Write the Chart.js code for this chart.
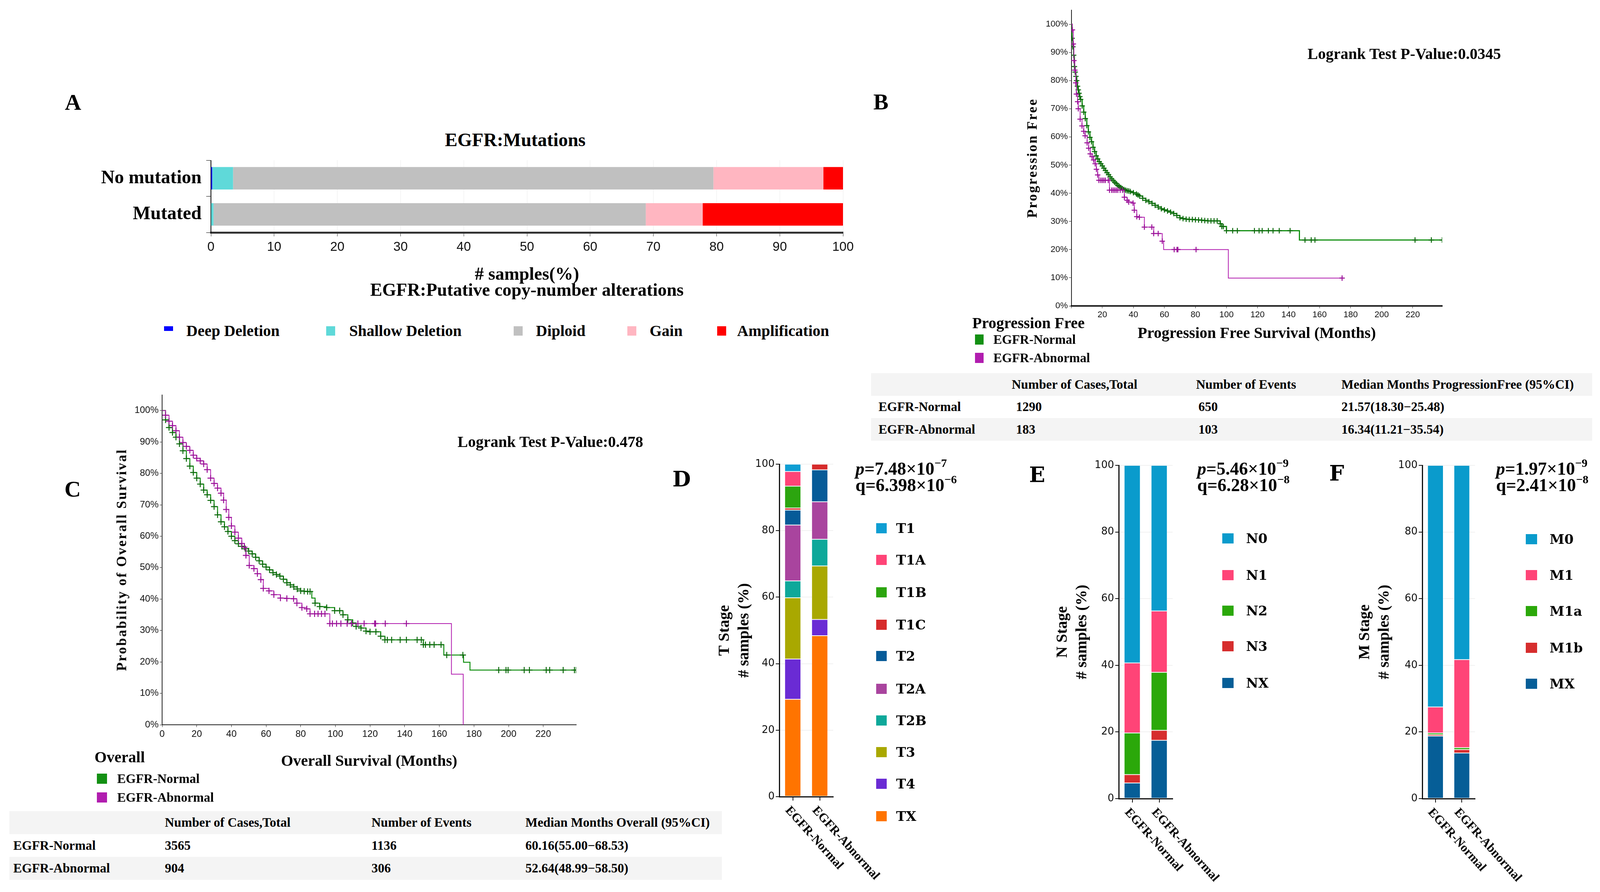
<!DOCTYPE html>
<html>
<head>
<meta charset="utf-8">
<title>EGFR alterations and survival</title>
<script src="https://cdn.jsdelivr.net/npm/chart.js@4.4.1/dist/chart.umd.min.js"></script>
<style>
  html, body { margin: 0; padding: 0; background: #fff; }
  body { position: relative; width: 4110px; height: 2283px; overflow: hidden;
         font-family: "Liberation Serif", "Times New Roman", serif; font-weight: bold; color: #000; }
  canvas { position: absolute; }
  .txt { position: absolute; white-space: nowrap; line-height: 1; }
  .box { position: absolute; }
  .sup { position: relative; top: -20px; font-size: 30px; }
</style>
</head>
<body>
<script>
// ---------- data ----------
const mutationGroups = ['No mutation', 'Mutated'];
const cnaTypes = ['Deep Deletion', 'Shallow Deletion', 'Diploid', 'Gain', 'Amplification'];
const cnaColors = ['#0000ff', '#5fd9d9', '#c0c0c0', '#ffb6c1', '#ff0000'];
const cnaNoMutation = [0.2, 3.3, 76.0, 17.4, 3.1];
const cnaMutated = [0.0, 0.4, 68.4, 9.0, 22.2];

const kmGroups = ['EGFR-Normal', 'EGFR-Abnormal'];
const kmColors = ['#139013', '#b11daf'];
const kmMarkColors = ['#0b6a0b', '#9a0f98'];

// progression free survival (months, % progression free)
const pfsNormalMonths = [0,0.5,1,1.5,2,2.5,3,3.5,4,4.5,5,5.5,6,7,8,9,10,11,12,13,14,15,16,17,18,19,20,21,22,23,24,25,26,27,28,29,30,31,32,33,34,35,36,37,38,40,42,43,44,46,48,50,52,54,56,58,60,62,64,66,68,70,72,74,76,78,80,82,84,86,88,90,92,94,96,97,98,100,104,107,118,121,123,127,130,134,141,147,150.6,154.6,157,221.5,232,239];
const pfsNormalPct = [100,95,92,89,85,83,81.5,80,78,76.7,75.5,74.3,73.3,71,68.8,66.5,64,61.8,59.8,58.3,56.3,54.8,53.3,52.2,51.2,50.5,49.7,48.9,48.1,47.3,46.6,45.8,45.1,44.5,43.9,43.4,42.8,42.4,42,41.6,41.3,41.1,40.9,40.8,40.6,40.2,39.7,39.4,39,38.2,37.5,37,36.4,35.7,35.1,34.5,34.1,33.7,33.3,32.8,32.1,31.3,31,30.8,30.7,30.7,30.6,30.5,30.4,30.3,30.2,30.2,30.2,30.2,29.2,28.2,28.2,26.7,26.7,26.7,26.7,26.7,26.7,26.7,26.7,26.7,26.7,23.4,23.4,23.4,23.4,23.4,23.4,23.4];
const pfsNormalNoMark = [0, 147];
const pfsAbnormalMonths = [0,0.7,1.3,1.7,2.3,2.9,3.3,4.1,4.5,5.7,6.9,8,8.9,10.2,11.2,12.2,13.4,14.4,15.4,16.2,17,17.8,19,20,21,22,23.8,24.6,26,27,28,29,30,31.5,33,34.2,36,37,39.8,40.6,42.2,43.9,47.1,51.9,53.1,56,58.6,59.5,66.3,68.1,68.7,80.4,101.2,174.5];
const pfsAbnormalPct = [100,98,93,87.1,83.7,79.2,75.2,72.5,70,66.3,63.9,62,60.4,57.9,56,54,53,51.8,50.5,48.5,46.5,44.6,44.6,44.6,44.6,44.6,44.6,41.1,41.1,41.1,41.1,41.1,41.1,41.1,41.1,38.6,37.5,36.9,36.5,34,31.7,31.5,28,28,25.7,25.7,23,20,20,20,20,20,9.9,9.9];
const pfsAbnormalNoMark = [0, 59.5, 101.2];

// overall survival (months, % surviving)
const osNormalMonths = [0,2,4,6,8,10,12,14,16,18,20,22,24,26,28,30,32,34,36,38,40,42,44,46,48,50,52,54,56,58,60,62,64,66,68,70,72,74,76,78,80,82,84,85.4,86.4,88.3,91,95,99.6,102.5,104.4,107.2,110,112,114.8,117.7,120,123.4,126.2,128.6,130,132.5,137.4,141,147.2,149.6,150.8,152,154.5,157,161,162.6,164.3,173.6,174,177.7,194.3,198.5,199.7,209,212,221.7,223.7,231.5,238,239];
const osNormalPct = [100,97,94.6,93,91.5,89.4,87.2,84.7,82.3,80.3,78.5,76.6,74.7,73.2,71.4,69.4,66.8,64.6,63,61.5,60,58.6,57.6,56.8,56,55.3,54.4,53.3,52.2,51.1,50.2,49.3,48.4,47.8,47.3,46.3,45.2,44.5,43.9,43.2,42.6,42.5,42.4,42.4,40.3,38.7,37.6,37.3,36.3,36.3,35,33.4,32.4,31.3,30.8,29.8,29.6,29.6,28.2,27,27,27,27,27,27,27,25.5,25.5,25.5,25.5,25.5,22.2,22.2,22.2,19.9,17.4,17.4,17.4,17.4,17.4,17.4,17.4,17.4,17.4,17.4,17.4];
const osNormalNoMark = [0, 86.4, 162.6, 174, 177.7];
const osAbnormalMonths = [0,2,4,6,8,10,12,14,16,18,20,22,24,26,28,30,32,34,35.5,37,38.5,40,42,44,46,47.5,48.4,50.3,53,55,57,58.4,61.7,64.5,68.3,72,75.9,77.8,80.7,83.5,85.4,88,90,92,94,96.8,98.3,100.7,103.2,106.8,109.3,113,116.6,122.7,123.2,128.8,141,167,173.8];
const osAbnormalPct = [100,98.5,96.6,95.2,93.6,91.5,89.8,88.6,87.3,85.8,84.8,84,83,81.2,78.5,76.8,75.3,73.7,71.5,68.5,66,63.3,61.3,59.4,57.7,56.5,53.9,50.7,49.7,48.1,46.2,43.4,42.6,41.4,40.3,40.2,40.1,38.7,37.3,36.9,35.3,35.3,35.3,35.3,35.3,32.2,32.2,32.2,32.2,32.2,32.2,32.2,32.2,32.2,32.2,32.2,32.2,16.1,0];
const osAbnormalNoMark = [0, 167, 173.8];

const pfsTableHead = ['Number of Cases,Total', 'Number of Events', 'Median Months ProgressionFree (95%CI)'];
const pfsTableRows = [['EGFR-Normal', '1290', '650', '21.57(18.30\u221225.48)'],
                      ['EGFR-Abnormal', '183', '103', '16.34(11.21\u221235.54)']];
const osTableHead = ['Number of Cases,Total', 'Number of Events', 'Median Months Overall (95%CI)'];
const osTableRows = [['EGFR-Normal', '3565', '1136', '60.16(55.00\u221268.53)'],
                     ['EGFR-Abnormal', '904', '306', '52.64(48.99\u221258.50)']];

const stageGroups = ['EGFR-Normal', 'EGFR-Abnormal'];
const tStages = ['T1', 'T1A', 'T1B', 'T1C', 'T2', 'T2A', 'T2B', 'T3', 'T4', 'TX'];
const tColors = ['#0f9ed3', '#ff4477', '#2ca50f', '#d62b2b', '#065b98', '#a9449e', '#0ea89a', '#a9a800', '#6a2bd4', '#ff7400'];
const tNormal = [2.2, 4.4, 6.6, 0.6, 4.5, 16.8, 5.1, 18.4, 12.1, 29.3];
const tAbnormal = [0, 0, 0, 1.7, 9.6, 11.3, 8.0, 16.1, 4.9, 48.4];

const nStages = ['N0', 'N1', 'N2', 'N3', 'NX'];
const nColors = ['#0a9bcc', '#ff4477', '#2ba80a', '#d62d2d', '#065e97'];
const nNormal = [59.3, 21.0, 12.5, 2.5, 4.7];
const nAbnormal = [43.7, 18.4, 17.4, 3.0, 17.5];

const mStages = ['M0', 'M1', 'M1a', 'M1b', 'MX'];
const mColors = ['#0a9bcc', '#ff4477', '#2ba80a', '#d62d2d', '#065e97'];
const mNormal = [72.5, 7.8, 0.5, 0.4, 18.8];
const mAbnormal = [58.3, 26.4, 0.6, 1.0, 13.7];

// ---------- helpers ----------
const SERIF = '"Liberation Serif", "Times New Roman", serif';
const NARROW = '"Liberation Sans Narrow", "Arial Narrow", "Liberation Sans", sans-serif';
const SANS = '"DejaVu Sans", "Liberation Sans", sans-serif';
const WIDE = '"DejaVu Serif", serif';

function addCanvas(left, top, width, height) {
  const c = document.createElement('canvas');
  c.width = width; c.height = height;
  c.style.left = left + 'px'; c.style.top = top + 'px';
  c.style.width = width + 'px'; c.style.height = height + 'px';
  document.body.appendChild(c);
  return c;
}

function text(html, x, y, size, opt = {}) {
  const d = document.createElement('div');
  d.className = 'txt';
  d.innerHTML = html;
  d.style.left = x + 'px';
  d.style.top = y + 'px';
  d.style.fontSize = size + 'px';
  if (opt.family) d.style.fontFamily = opt.family;
  const tx = opt.align === 'center' ? '-50%' : (opt.align === 'right' ? '-100%' : '0');
  d.style.transform = 'translate(' + tx + ', -50%)';
  document.body.appendChild(d);
}

function rect(x, y, w, h, color) {
  const d = document.createElement('div');
  d.className = 'box';
  d.style.left = x + 'px'; d.style.top = y + 'px';
  d.style.width = w + 'px'; d.style.height = h + 'px';
  d.style.background = color;
  document.body.appendChild(d);
}

// pin axis box sizes so the plot areas land where the figure has them
function fixW(w) {
  return s => { s.width = w; s.paddingTop = 0; s.paddingBottom = 0; s.paddingLeft = 0; s.paddingRight = 0; };
}
function fixH(h) {
  return s => { s.height = h; s.paddingTop = 0; s.paddingBottom = 0; s.paddingLeft = 0; s.paddingRight = 0; };
}

// letter-spaced y axis title
const spacedTitle = {
  id: 'spacedTitle',
  afterLayout(chart, args, opts) {
    const s = chart.scales.y;
    if (!s || s.__spaced) return;
    const orig = s.drawTitle;
    s.drawTitle = function () {
      chart.ctx.save();
      chart.ctx.letterSpacing = opts.spacing || '0px';
      orig.call(this);
      chart.ctx.restore();
    };
    s.__spaced = true;
  }
};

// x labels slanting down to the right
const slantLabels = {
  id: 'slantLabels',
  afterDraw(chart) {
    const xs = chart.scales.x, ctx = chart.ctx;
    ctx.save();
    ctx.font = 'bold 32px ' + SERIF;
    ctx.fillStyle = '#000';
    ctx.textAlign = 'left';
    ctx.textBaseline = 'middle';
    chart.data.labels.forEach((lab, i) => {
      ctx.save();
      ctx.translate(xs.getPixelForTick(i) - 14, xs.top + 30);
      ctx.rotate(48 * Math.PI / 180);
      ctx.fillText(lab, 0, 0);
      ctx.restore();
    });
    ctx.restore();
  }
};

const base = { responsive: false, animation: false, devicePixelRatio: 1 };

// ---------- panel A ----------
text('A', 187, 262, 58, { align: 'center' });
text('EGFR:Mutations', 1319, 358, 48, { align: 'center' });

new Chart(addCanvas(120, 410, 2078, 356), {
  type: 'bar',
  data: {
    labels: mutationGroups,
    datasets: cnaTypes.map((name, i) => ({
      label: name,
      data: [cnaNoMutation[i], cnaMutated[i]],
      backgroundColor: cnaColors[i],
      barPercentage: 0.62,
      categoryPercentage: 1
    }))
  },
  options: Object.assign({}, base, {
    indexAxis: 'y',
    layout: { padding: { top: 0, right: 40, bottom: 0, left: 0 } },
    plugins: { legend: { display: false }, tooltip: { enabled: false } },
    scales: {
      x: {
        stacked: true, min: 0, max: 100,
        ticks: { stepSize: 10, font: { family: NARROW, size: 33 }, color: '#111', padding: 8 },
        grid: { color: '#ececec', tickColor: '#333', tickLength: 10 },
        border: { color: '#333', width: 5 },
        title: { display: true, text: ['# samples(%)', 'EGFR:Putative copy-number alterations'],
                 font: { family: SERIF, size: 46, weight: 'bold', lineHeight: '41px' }, padding: 0, color: '#000' },
        afterFit: fixH(171)
      },
      y: {
        stacked: true,
        ticks: { font: { family: SERIF, size: 48, weight: 'bold' }, color: '#000', padding: 12 },
        grid: { drawOnChartArea: false, tickLength: 12, tickColor: '#000' },
        border: { color: '#000', width: 2 },
        afterFit: fixW(420)
      }
    }
  })
});

const cnaLegendX = [[420, 477], [835, 894], [1315, 1372], [1606, 1663], [1836, 1887]];
cnaTypes.forEach((name, i) => {
  rect(cnaLegendX[i][0], 835, 23, i === 0 ? 12 : 24, cnaColors[i]);
  text(name, cnaLegendX[i][1], 847, 40);
});

// ---------- survival panels ----------
function kmChart(canvas, cfg) {
  const curves = cfg.curves.map(c => ({
    label: c.label,
    data: c.months.map((m, i) => ({ x: m, y: c.pct[i] })),
    borderColor: c.color,
    borderWidth: c.width,
    stepped: 'before',
    fill: false,
    pointStyle: 'cross',
    pointBorderColor: c.mark,
    pointBorderWidth: 2.5,
    pointRadius: ctx => (ctx.raw && c.noMark.includes(ctx.raw.x)) ? 0 : cfg.markSize,
    pointHoverRadius: 0
  }));
  return new Chart(canvas, {
    type: 'line',
    data: { datasets: curves },
    options: Object.assign({}, base, {
      layout: { padding: { top: 10, right: 20, bottom: 0, left: 0 } },
      plugins: { legend: { display: false }, tooltip: { enabled: false }, spacedTitle: { spacing: '3px' } },
      scales: {
        x: {
          type: 'linear', min: 0, max: 239,
          ticks: { stepSize: 20, includeBounds: false, font: { family: NARROW, size: cfg.tickSize }, color: '#111', padding: 4,
                   callback: v => (cfg.hideZero && v === 0) ? '' : v },
          grid: { drawOnChartArea: false, tickLength: 6, tickColor: '#222' },
          border: { color: '#222', width: cfg.xBorder },
          title: { display: true, text: cfg.xTitle, font: { family: SERIF, size: 40, weight: 'bold', lineHeight: '48px' }, padding: 0, color: '#000' },
          afterFit: fixH(cfg.xH)
        },
        y: {
          min: 0, max: 105,
          ticks: { stepSize: 10, includeBounds: false, font: { family: NARROW, size: cfg.tickSize }, color: '#111', padding: 3,
                   callback: v => v + '%' },
          grid: { drawOnChartArea: false, tickLength: 6, tickColor: '#222' },
          border: { color: '#222', width: 2 },
          title: { display: true, text: cfg.yTitle, font: { family: SERIF, size: 36, weight: 'bold', lineHeight: '43px' }, padding: 0, color: '#000' },
          afterFit: fixW(cfg.yW)
        }
      }
    }),
    plugins: [spacedTitle]
  });
}

// panel B
text('B', 2255, 261, 58, { align: 'center' });
kmChart(addCanvas(2623, 16, 1089, 863), {
  curves: [
    { label: kmGroups[1], months: pfsAbnormalMonths, pct: pfsAbnormalPct, noMark: pfsAbnormalNoMark, color: kmColors[1], mark: kmMarkColors[1], width: 2 },
    { label: kmGroups[0], months: pfsNormalMonths, pct: pfsNormalPct, noMark: pfsNormalNoMark, color: kmColors[0], mark: kmMarkColors[0], width: 3 }
  ],
  xTitle: 'Progression Free Survival (Months)', yTitle: 'Progression Free',
  tickSize: 22, hideZero: true, xBorder: 4, xH: 96, yW: 119.5, markSize: 7
});
text('Logrank Test P-Value:0.0345', 3595, 138, 40, { align: 'center' });
text('Progression Free', 2489, 827, 40);
kmGroups.forEach((g, i) => {
  const y = [869, 916][i];
  rect(2496, y - 13, 22, 26, kmColors[i]);
  text(g, 2543, y, 33);
});

function table(x0, x1, top, rowH, head, rows, colX, headX) {
  rect(x0, top, x1 - x0, rowH, '#f4f4f4');
  rect(x0, top + 2 * rowH, x1 - x0, rowH, '#f4f4f4');
  head.forEach((h, i) => text(h, headX[i], top + rowH / 2, 33));
  rows.forEach((r, j) => {
    const y = top + (j + 1.5) * rowH;
    r.forEach((cell, i) => text(cell, colX[i], y, 33));
  });
}
table(2230, 4076, 955, 57.5, pfsTableHead, pfsTableRows, [2249, 2601, 3068, 3434], [2590, 3062, 3434]);

// panel C
text('C', 186, 1252, 58, { align: 'center' });
kmChart(addCanvas(292, 1000, 1203, 974), {
  curves: [
    { label: kmGroups[1], months: osAbnormalMonths, pct: osAbnormalPct, noMark: osAbnormalNoMark, color: kmColors[1], mark: kmMarkColors[1], width: 2 },
    { label: kmGroups[0], months: osNormalMonths, pct: osNormalPct, noMark: osNormalNoMark, color: kmColors[0], mark: kmMarkColors[0], width: 2.5 }
  ],
  xTitle: 'Overall Survival (Months)', yTitle: 'Probability of Overall Survival',
  tickSize: 24, hideZero: false, xBorder: 2, xH: 119, yW: 123, markSize: 8
});
text('Logrank Test P-Value:0.478', 1409, 1131, 40, { align: 'center' });
text('Overall', 242, 1938, 40);
kmGroups.forEach((g, i) => {
  const y = [1993, 2041][i];
  rect(248, y - 13, 26, 26, kmColors[i]);
  text(g, 300, y, 33);
});
table(24, 1848, 2076, 58.5, osTableHead, osTableRows, [34, 422, 951, 1345], [422, 951, 1345]);

// ---------- stage panels ----------
function stageChart(cfg) {
  const left = cfg.titleX - 25;
  const top = cfg.top - 30;
  const width = cfg.right + 160 - left;
  const height = 2283 - top;
  new Chart(addCanvas(left, top, width, height), {
    type: 'bar',
    data: {
      labels: stageGroups,
      datasets: cfg.stages.map((s, i) => ({
        label: s,
        data: [cfg.normal[i], cfg.abnormal[i]],
        backgroundColor: cfg.colors[i],
        borderColor: 'rgba(255,255,255,0.55)',
        borderWidth: 1,
        borderSkipped: false,
        barPercentage: 0.6,
        categoryPercentage: 1
      })).reverse()
    },
    options: Object.assign({}, base, {
      layout: { padding: { top: 30, right: 160, bottom: 0, left: 0 } },
      plugins: { legend: { display: false }, tooltip: { enabled: false } },
      scales: {
        x: {
          stacked: true,
          ticks: { display: false },
          grid: { drawOnChartArea: false, offset: false, tickLength: 10, tickColor: '#111', lineWidth: 2 },
          border: { color: '#111', width: 3 },
          afterFit: fixH(2283 - cfg.bottom)
        },
        y: {
          stacked: true, min: 0, max: 100,
          ticks: { stepSize: 20, font: { family: SANS, size: 26 }, color: '#111', padding: 3 },
          grid: { color: '#f1f1f1', tickColor: '#111', tickLength: 9, lineWidth: 2 },
          border: { color: '#111', width: 3 },
          title: { display: true, text: cfg.title, font: { family: SERIF, size: 40, weight: 'bold', lineHeight: '50px' }, padding: 0, color: '#000' },
          afterFit: fixW(cfg.axisX - left)
        }
      }
    }),
    plugins: [slantLabels]
  });
  cfg.stages.forEach((s, i) => {
    const y = cfg.legendY[i];
    rect(cfg.boxX, y - 13, cfg.boxW, 26, cfg.colors[i]);
    text(s, cfg.textX, y, 34, { family: WIDE });
  });
  text('<i>p</i>=' + cfg.p[0] + '\u00d710<span class="sup">\u2212' + cfg.p[1] + '</span>', cfg.pX, 1200, 46);
  text('q=' + cfg.q[0] + '\u00d710<span class="sup">\u2212' + cfg.q[1] + '</span>', cfg.pX, 1242, 46);
  text(cfg.letter, cfg.letterX, cfg.letterY, 54, { family: WIDE, align: 'center' });
}

stageChart({
  letter: 'D', letterX: 1745, letterY: 1226,
  stages: tStages, colors: tColors, normal: tNormal, abnormal: tAbnormal,
  axisX: 1995, right: 2133, top: 1188, bottom: 2039, titleX: 1856, title: ['T Stage', '# samples (%)'],
  boxX: 2243, boxW: 27, textX: 2294,
  legendY: [1352, 1433, 1516, 1599, 1679, 1763, 1844, 1925, 2006, 2089],
  pX: 2190, p: ['7.48', '7'], q: ['6.398', '6']
});
stageChart({
  letter: 'E', letterX: 2655, letterY: 1215,
  stages: nStages, colors: nColors, normal: nNormal, abnormal: nAbnormal,
  axisX: 2864, right: 3002, top: 1191, bottom: 2044, titleX: 2721, title: ['N Stage', '# samples (%)'],
  boxX: 3129, boxW: 29, textX: 3190,
  legendY: [1378, 1472, 1563, 1654, 1748],
  pX: 3065, p: ['5.46', '9'], q: ['6.28', '8']
});
stageChart({
  letter: 'F', letterX: 3422, letterY: 1211,
  stages: mStages, colors: mColors, normal: mNormal, abnormal: mAbnormal,
  axisX: 3641, right: 3776, top: 1191, bottom: 2044, titleX: 3495, title: ['M Stage', '# samples (%)'],
  boxX: 3906, boxW: 29, textX: 3967,
  legendY: [1380, 1472, 1564, 1658, 1750],
  pX: 3830, p: ['1.97', '9'], q: ['2.41', '8']
});
</script>
</body>
</html>
